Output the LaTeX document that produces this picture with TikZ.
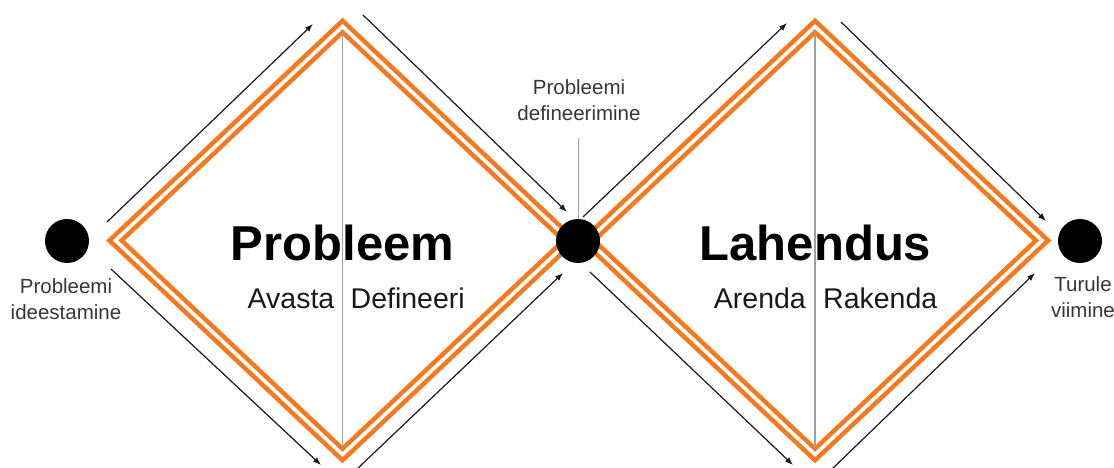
\documentclass[tikz,border=0pt]{standalone}
\usepackage{fontspec}
\setmainfont{Liberation Sans}
\usetikzlibrary{arrows.meta}
\definecolor{dorange}{RGB}{246,121,32}
\definecolor{lgray}{RGB}{160,160,160}
\definecolor{txtgray}{RGB}{55,55,55}
\tikzset{
  dline/.style={draw=dorange, line width=4.6pt, double=white, double distance=3.6pt, line join=miter},
  flowarrow/.style={draw=black!90, line width=1.2pt, -{Latex[length=8pt,width=6pt]}},
  divider/.style={draw=lgray, line width=1.6pt},
  dot/.style={circle, fill=black, minimum size=44pt, inner sep=0pt},
  bigtitle/.style={font=\bfseries\fontsize{49}{49}\selectfont, inner sep=0pt, text=black},
  phase/.style={font=\fontsize{28.5}{30}\selectfont, inner sep=0pt, text=black!90},
  smalllbl/.style={font=\fontsize{20.5}{26}\selectfont, inner sep=0pt, text=txtgray, align=center}
}
\begin{document}
\begin{tikzpicture}[x=1pt,y=-1pt]
\useasboundingbox (0,0) rectangle (1114,468);
% diamonds
\coordinate (lL) at (115.5,240.5);
\coordinate (lT) at (342.5,26.5);
\coordinate (lR) at (569.5,240.5);
\coordinate (lB) at (342.5,454.5);
\coordinate (rL) at (588,240.5);
\coordinate (rT) at (815,26.5);
\coordinate (rR) at (1042,240.5);
\coordinate (rB) at (815,454.5);
\draw[dline] (lL) -- (lT) -- (lR) -- (lB) -- cycle;
\draw[dline] (rL) -- (rT) -- (rR) -- (rB) -- cycle;
% dividers
\coordinate (ld1) at (342.5,33);
\coordinate (ld2) at (342.5,448);
\coordinate (rd1) at (815,33);
\coordinate (rd2) at (815,448);
\draw[divider] (ld1) -- (ld2);
\draw[divider] (rd1) -- (rd2);
% dots
\node[dot] (start) at (67,241) {};
\node[dot] (mid) at (578,241) {};
\node[dot] (end) at (1080,241) {};
% arrows
\coordinate (a1s) at (107,222);  \coordinate (a1e) at (313,24);
\coordinate (a2s) at (363,15);   \coordinate (a2e) at (567,212);
\coordinate (a3s) at (111,269);  \coordinate (a3e) at (321,465);
\coordinate (a4s) at (356,470);  \coordinate (a4e) at (563,273);
\coordinate (a5s) at (583,217);  \coordinate (a5e) at (787,23);
\coordinate (a6s) at (841,22);   \coordinate (a6e) at (1046,221);
\coordinate (a7s) at (590,272);  \coordinate (a7e) at (793,465);
\coordinate (a8s) at (831,470);  \coordinate (a8e) at (1035,273);
\foreach \i in {1,...,8} \draw[flowarrow] (a\i s) -- (a\i e);
% pointer
\coordinate (p1) at (578,138);
\draw[draw=lgray, line width=1pt] (p1) -- (mid.north);
% texts
\node[bigtitle, anchor=base] (t1) at (342.5,260) {Probleem};
\node[bigtitle, anchor=base] (t2) at (815.5,260) {Lahendus};
\node[phase, anchor=base east] (ph1) at (334.5,308) {Avasta};
\node[phase, anchor=base west] (ph2) at (350.5,308) {Defineeri};
\node[phase, anchor=base east] (ph3) at (806,308) {Arenda};
\node[phase, anchor=base west] (ph4) at (823,308) {Rakenda};
\node[smalllbl, anchor=base] (l1) at (66,319) {Probleemi\\ideestamine};
\node[smalllbl, anchor=base] (l2) at (579,121) {Probleemi\\defineerimine};
\node[smalllbl, anchor=base] (l3) at (1083,317) {Turule\\viimine};
\end{tikzpicture}
\end{document}
